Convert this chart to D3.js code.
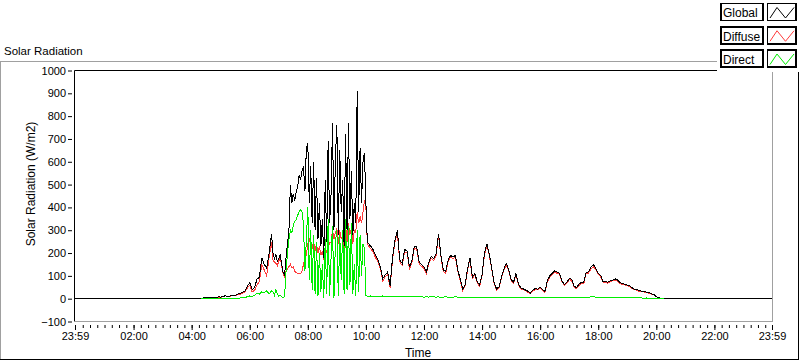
<!DOCTYPE html>
<html>
<head>
<meta charset="utf-8">
<script src="https://cdn.jsdelivr.net/npm/d3@7"></script>
<style>
    body { margin: 0; background: #fff; }
    svg { display: block; font-family: Tahoma, "Liberation Sans", Arial, sans-serif; }
</style>
</head>
<body>
<svg id="chart" width="800" height="361"></svg>
<script>
// Time is in minutes after midnight; the trace runs from 23:59 the evening before to 23:59.
const nightEnds = [-1, 1439];          // flat zero before dawn and after dusk

// 04:20 - 06:40, every 5 minutes
const dawnStart = 260, dawnStep = 5;
const globalDawn  = [0,4,3,5,4,6,5,8,7,10,13,9,12,15,13,20,22,28,34,55,70,40,50,85,95,180,150,135,200];
const diffuseDawn = [0,3,2,4,3,5,4,7,6,9,12,8,11,14,12,18,19,24,28,47,58,30,36,60,75,150,125,100,180];
const directDawn  = [0,0,0,0,0,0,0,0,0,1,1,1,1,2,1,2,3,4,6,8,12,10,15,25,20,30,25,35,20];

// 06:45 - 10:06, every 3 minutes (broken cloud)
const peakStart = 405, peakStep = 3;
const globalPeak = [285,200,175,195,165,175,195,150,115,105, 180,240,300,500,420,460,430,470,490,540,
    520,560,580,470,660,680,420,580,330,600, 300,530,260,420,230,350,180,520,250,690,
    330,460,770,300,620,760,280,650,380,520, 230,720,300,770,350,560,280,420,330,910,
    380,660,420,600,640,420,250,240];
const diffusePeak = [250,170,160,155,145,165,180,142,110,95, 120,130,140,150,135,140,120,115,110,112,
    110,120,150,180,190,240,260,235,220,250, 210,240,200,230,190,210,170,230,200,260,
    240,250,300,260,290,310,240,300,260,280, 200,320,250,330,280,310,240,300,290,380,
    330,360,330,380,430,400,240,230];
const directPeak = [35,30,15,40,20,10,15,8,5,10, 120,200,260,300,290,320,340,345,365,380,
    390,380,330,120,260,400,80,300,40,280, 20,250,10,200,30,150,5,260,20,350,
    10,180,320,5,250,300,10,280,80,300, 20,350,40,320,60,330,20,150,10,300,
    30,280,100,240,220,15,10,10];

// 10:10 - 20:30, every 5 minutes
const afternoonStart = 610, afternoonStep = 5;
const globalAfternoon = [230,215,190,170,140,88,105,117,57,180, 255,300,170,154,215,210,138,167,230,226,
    160,150,140,117,160,185,176,195,285,190, 125,120,170,190,182,190,125,85,42,62,
    130,180,95,110,75,60,105,200,240,195, 132,70,43,52,95,130,155,128,85,72,
    110,65,48,43,38,32,25,38,45,42, 50,40,32,80,100,112,122,116,112,79,
    62,72,88,85,55,48,63,72,72,115, 118,138,150,132,112,102,75,75,72,79,
    82,87,82,70,66,63,60,57,48,42, 40,35,33,31,29,26,22,18,9,4,
    1,0,0,0,0];
const diffuseAfternoon = [218,205,179,161,130,76,97,107,48,169, 247,290,161,146,205,201,130,158,220,218,
    151,142,133,109,153,176,168,188,277,184, 118,112,163,184,175,182,118,79,36,55,
    125,174,88,104,70,54,100,194,233,189, 127,64,38,47,89,125,149,123,81,67,
    105,61,43,39,34,27,21,33,41,38, 45,36,28,75,94,107,118,111,108,75,
    58,67,84,80,51,44,58,66,65,110, 112,130,141,126,107,97,71,70,68,75,
    78,82,78,66,62,60,56,54,45,39, 37,32,30,29,26,24,20,16,8,3,
    1,0,0,0,0];
const directAfternoon = [12,10,11,9,10,12,8,10,9,11, 8,10,9,8,10,9,8,9,10,8,
    9,8,7,8,7,9,8,7,8,6, 7,8,7,6,7,8,7,6,6,7,
    5,6,7,6,5,6,5,6,7,6, 5,6,5,5,6,5,6,5,4,5,
    5,4,5,4,4,5,4,5,4,4, 5,4,4,5,6,5,4,5,4,4,
    4,5,4,5,4,4,5,6,7,5, 6,8,9,6,5,5,4,5,4,4,
    4,5,4,4,4,3,4,3,3,3, 3,3,3,2,3,2,2,2,1,1,
    0,0];

const yTicks = [-100, 0, 100, 200, 300, 400, 500, 600, 700, 800, 900, 1000];
const xTickMinutes = [-1, 120, 240, 360, 480, 600, 720, 840, 960, 1080, 1200, 1320, 1439];
const xTickLabels = ['23:59', '02:00', '04:00', '06:00', '08:00', '10:00', '12:00',
    '14:00', '16:00', '18:00', '20:00', '22:00', '23:59'];
const xMinorMinutes = d3.range(15, 1439, 15);
const seriesNames = ['Global', 'Diffuse', 'Direct'];

const colors = { Global: '#000000', Diffuse: '#ff3c3c', Direct: '#00ee00' };

// helpers
const segment = (start, step, values) => values.map((v, i) => ({ t: start + i * step, v }));
const night = t => ({ t, v: 0 });

const series = {
    Global: [night(nightEnds[0]), ...segment(dawnStart, dawnStep, globalDawn),
        ...segment(peakStart, peakStep, globalPeak),
        ...segment(afternoonStart, afternoonStep, globalAfternoon), night(nightEnds[1])],
    Diffuse: [night(nightEnds[0]), ...segment(dawnStart, dawnStep, diffuseDawn),
        ...segment(peakStart, peakStep, diffusePeak),
        ...segment(afternoonStart, afternoonStep, diffuseAfternoon), night(nightEnds[1])],
    Direct: [...segment(dawnStart, dawnStep, directDawn),
        ...segment(peakStart, peakStep, directPeak),
        ...segment(afternoonStart, afternoonStep, directAfternoon)]
};

const svg = d3.select('#chart');
const plot = { left: 74.5, right: 772.5, top: 70.5, bottom: 321.5 };

const x = d3.scaleLinear().domain([-1, 1439]).range([75, 772]);
const y = d3.scaleLinear().domain([-100, 1000]).range([plot.bottom, plot.top]);

// outer panel frame
svg.append('line').attr('x1', 0).attr('x2', 800).attr('y1', 61.5).attr('y2', 61.5).attr('stroke', '#a0a0a0');
svg.append('line').attr('x1', 0.5).attr('x2', 0.5).attr('y1', 61).attr('y2', 360).attr('stroke', '#a0a0a0');
svg.append('line').attr('x1', 0).attr('x2', 799).attr('y1', 359.5).attr('y2', 359.5).attr('stroke', '#000');
svg.append('line').attr('x1', 798.5).attr('x2', 798.5).attr('y1', 62).attr('y2', 360).attr('stroke', '#000');

svg.append('text')
    .attr('x', 4).attr('y', 55)
    .attr('font-size', 11.5)
    .text('Solar Radiation');

// plot lines
const clip = svg.append('clipPath').attr('id', 'plotClip')
    .append('rect').attr('x', plot.left).attr('y', plot.top)
    .attr('width', plot.right - plot.left).attr('height', plot.bottom - plot.top);

const line = d3.line().x(d => x(d.t)).y(d => y(d.v));

const lines = svg.append('g').attr('clip-path', 'url(#plotClip)');
['Diffuse', 'Global', 'Direct'].forEach(name => {
    lines.append('path')
        .datum(series[name])
        .attr('d', line)
        .attr('fill', 'none')
        .attr('stroke', colors[name])
        .attr('stroke-width', 1)
        .attr('shape-rendering', 'crispEdges');
});

// plot frame: dark top/left, light bottom/right
svg.append('line').attr('x1', plot.left).attr('x2', plot.right).attr('y1', plot.top).attr('y2', plot.top).attr('stroke', '#000');
svg.append('line').attr('x1', plot.left).attr('x2', plot.left).attr('y1', plot.top).attr('y2', plot.bottom).attr('stroke', '#000');
svg.append('line').attr('x1', plot.right).attr('x2', plot.right).attr('y1', plot.top).attr('y2', plot.bottom + 0.5).attr('stroke', '#a0a0a0');
svg.append('line').attr('x1', plot.left).attr('x2', plot.right).attr('y1', plot.bottom).attr('y2', plot.bottom).attr('stroke', '#a0a0a0');

// y axis
const yAxis = svg.append('g')
    .attr('transform', 'translate(72,0)')
    .call(d3.axisLeft(y).tickValues(yTicks).tickSize(4).tickPadding(2).tickFormat(d3.format('d')));
yAxis.select('.domain').remove();
yAxis.selectAll('text').attr('font-size', 11).attr('font-family', null).attr('fill', '#000');

svg.append('text')
    .attr('transform', 'translate(35,184) rotate(-90)')
    .attr('text-anchor', 'middle')
    .attr('font-size', 12)
    .text('Solar Radiation (W/m2)');

// x axis
const xMinor = svg.append('g')
    .attr('transform', 'translate(0,325)')
    .call(d3.axisBottom(x).tickValues(xMinorMinutes).tickSize(3).tickFormat(''));
xMinor.select('.domain').remove();

const xAxis = svg.append('g')
    .attr('transform', 'translate(0,325)')
    .call(d3.axisBottom(x).tickValues(xTickMinutes).tickSize(5).tickPadding(2)
        .tickFormat((d, i) => xTickLabels[i]));
xAxis.select('.domain').remove();
xAxis.selectAll('text').attr('font-size', 11).attr('font-family', null).attr('fill', '#000');

svg.append('text')
    .attr('x', 418).attr('y', 356.5)
    .attr('text-anchor', 'middle')
    .attr('font-size', 12)
    .text('Time');

// legend
const legend = svg.append('g');
legend.append('rect').attr('x', 717).attr('y', 0).attr('width', 83).attr('height', 72).attr('fill', '#fff');

seriesNames.forEach((name, i) => {
    const top = 3.5 + i * 23.25;
    const row = legend.append('g').attr('transform', `translate(0,${top})`);
    row.append('rect')
        .attr('x', 721).attr('y', 0).attr('width', 42).attr('height', 17)
        .attr('fill', '#fff').attr('stroke', '#000').attr('stroke-width', 1.5)
        .attr('shape-rendering', 'crispEdges');
    row.append('text')
        .attr('x', 723).attr('y', 13.8)
        .attr('font-size', 12)
        .text(name);
    row.append('rect')
        .attr('x', 767.5).attr('y', 0).attr('width', 28.5).attr('height', 17)
        .attr('fill', '#fff').attr('stroke', '#000').attr('stroke-width', 1.5)
        .attr('shape-rendering', 'crispEdges');
    row.append('path')
        .attr('d', 'M770,14.5 L777,4 L785.5,14.5 L794,4')
        .attr('fill', 'none')
        .attr('stroke', colors[name])
        .attr('stroke-width', 1);
});
</script>
</body>
</html>
